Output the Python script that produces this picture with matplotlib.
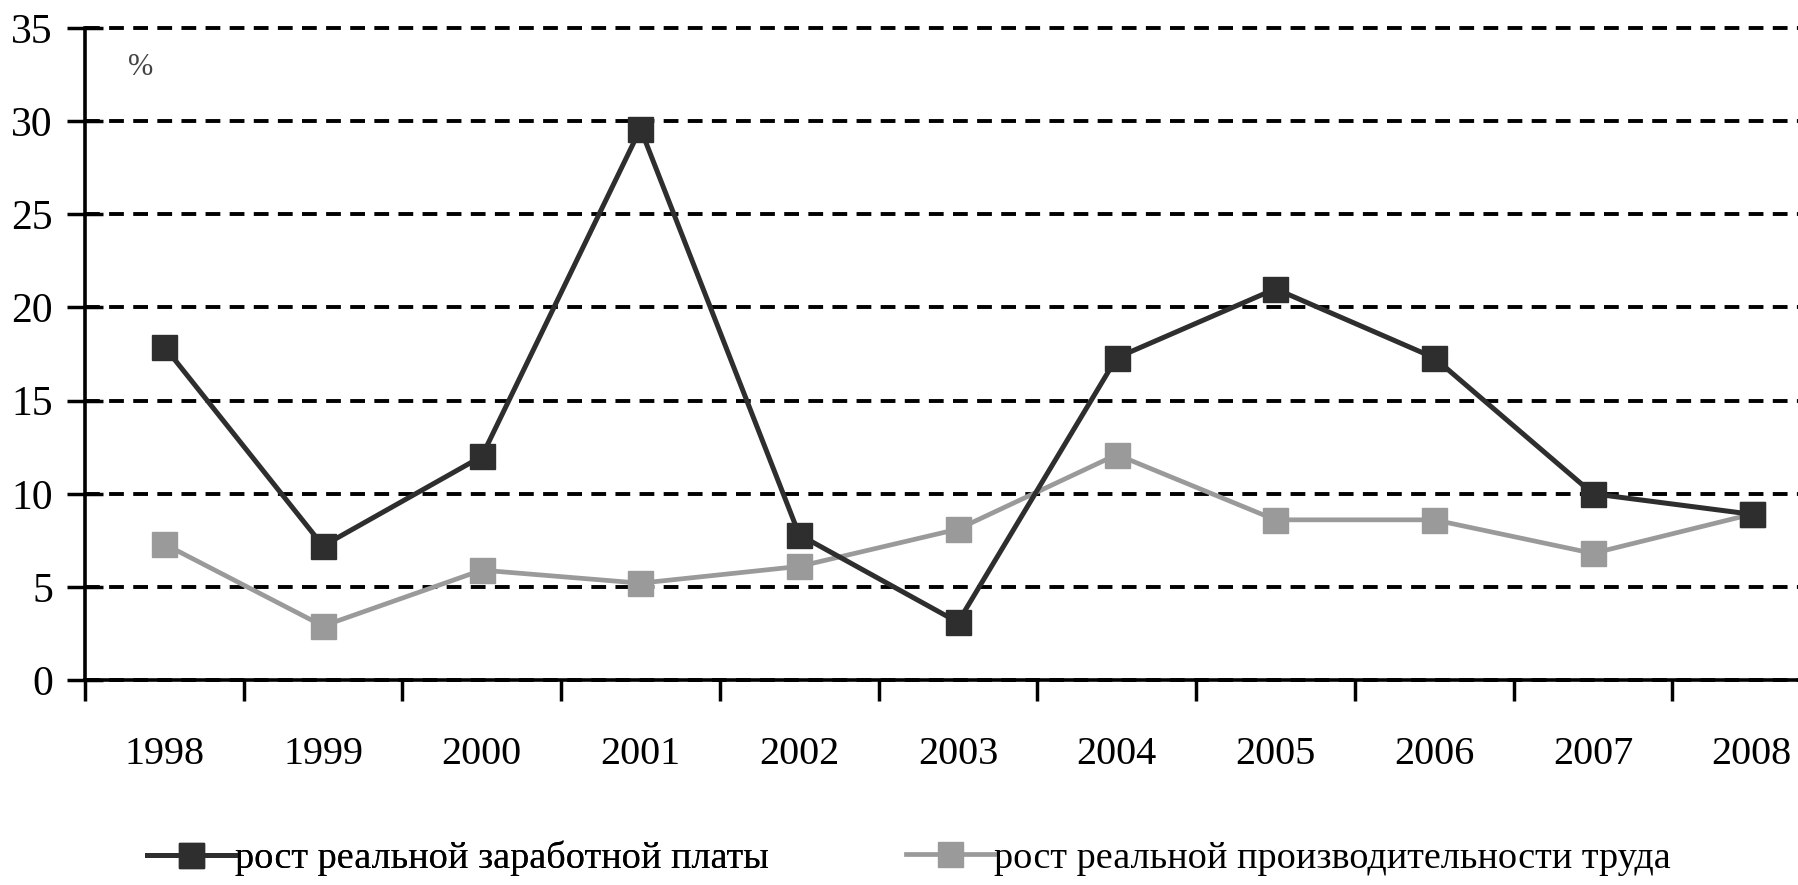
import numpy as np
import matplotlib.pyplot as plt

years = ["1998", "1999", "2000", "2001", "2002", "2003", "2004", "2005", "2006", "2007", "2008"]
wage_growth = [17.9, 7.2, 12.0, 29.6, 7.8, 3.1, 17.3, 21.0, 17.3, 10.0, 8.9]
productivity_growth = [7.3, 2.9, 5.9, 5.2, 6.1, 8.1, 12.1, 8.6, 8.6, 6.8, 8.9]
y_ticks = [0, 5, 10, 15, 20, 25, 30, 35]
labels = ["рост реальной заработной платы", "рост реальной производительности труда"]

plt.rcParams['font.family'] = ['Liberation Serif', 'DejaVu Serif']

fig = plt.figure(figsize=(17.99, 8.85), dpi=100)
# the x axis runs past the right edge, as in the scanned original
ax = fig.add_axes([0.0472, 0.2316, 0.9706, 0.7367])

x = np.arange(len(years))
dark, light = "#2e2e2e", "#9a9a9a"
l1, = ax.plot(x, wage_growth, color=dark, lw=3.6, marker="s", ms=18,
              mfc=dark, mec=dark, zorder=4, clip_on=False)
l2, = ax.plot(x, productivity_growth, color=light, lw=3.4, marker="s", ms=18,
              mfc=light, mec=light, zorder=3, clip_on=False)

ax.set_ylim(0, 35)
ax.set_xlim(-0.5, len(years) - 0.5)
ax.set_yticks(y_ticks)
ax.set_yticklabels([str(v) for v in y_ticks], fontsize=30)

# ticks on category boundaries, labels in the middle
ax.set_xticks(np.arange(len(years) + 1) - 0.5)
ax.set_xticklabels([])
ax.set_xticks(x, minor=True)
ax.set_xticklabels(years, minor=True, fontsize=29)
ax.tick_params(axis="x", which="major", direction="out", length=15, width=2.5)
ax.tick_params(axis="x", which="minor", length=0, pad=40)
ax.tick_params(axis="y", direction="inout", length=26, width=2.5, pad=10)

ax.yaxis.grid(True, color="black", lw=2.8, linestyle=(0, (3.8, 2.4)))
for gl in ax.get_ygridlines():
    gl.set_clip_on(False)  # keep the 35 line at full width
ax.set_axisbelow(True)
for s in ["top", "right"]:
    ax.spines[s].set_visible(False)
for s in ["left", "bottom"]:
    ax.spines[s].set_linewidth(2.6)
    ax.spines[s].set_zorder(5)

ax.text(0.032, 0.94, "%", transform=ax.transAxes, fontsize=22, color="#444444",
        ha="center", va="center")

leg_kw = dict(loc="center left", frameon=False, fontsize=27.5, handlelength=2.3,
              handletextpad=0.0, borderaxespad=0, borderpad=0, markerscale=1.0)
leg1 = fig.legend([l1], [labels[0]], bbox_to_anchor=(0.0817, 0.03), **leg_kw)
fig.add_artist(leg1)
fig.legend([l2], [labels[1]], bbox_to_anchor=(0.5036, 0.03), **leg_kw)

fig.savefig("out.png", dpi=100, facecolor="white")
